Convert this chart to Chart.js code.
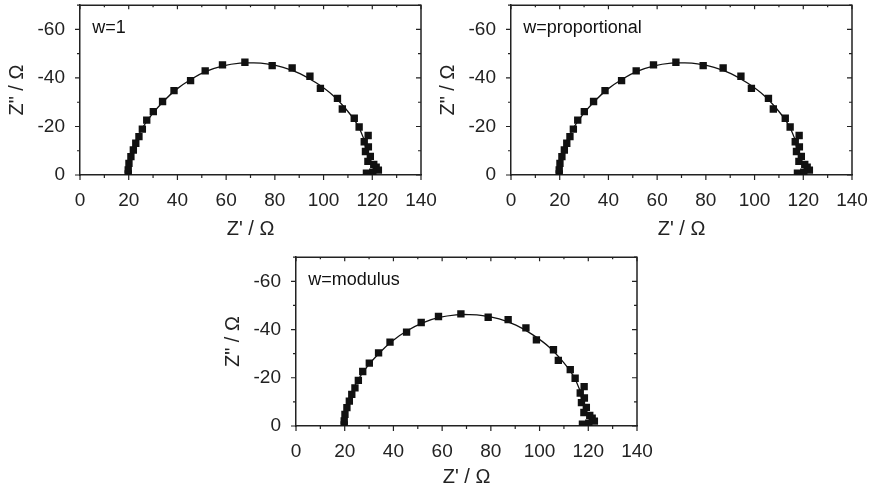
<!DOCTYPE html>
<html>
<head>
<meta charset="utf-8">
<script src="https://cdn.jsdelivr.net/npm/chart.js@4/dist/chart.umd.min.js"></script>
<style>
    body { margin: 0; background: #fff; width: 874px; height: 493px; position: relative; overflow: hidden; }
    canvas { position: absolute; }
</style>
</head>
<body>
<canvas id="panel1" width="440" height="245" style="left:0px;top:0px"></canvas>
<canvas id="panel2" width="440" height="245" style="left:431px;top:0px"></canvas>
<canvas id="panel3" width="440" height="241" style="left:216px;top:252px"></canvas>
<script>
// measured impedance points (Z' and Z'' in ohm)
const ptRe = [19.8, 19.8, 20.1, 20.9, 21.9, 22.9, 24.2, 25.6, 27.4, 30.1, 33.9, 38.6, 45.4, 51.4, 58.5, 67.7,
              78.9, 87.1, 94.4, 98.7, 105.7, 107.7, 112.6, 114.6, 118.3, 116.7, 118.4, 117.2, 119.2, 118.2,
              120.6, 121.6, 122.5, 117.6, 120.2];
const ptIm = [-0.4, -2.1, -4.8, -7.6, -10.3, -13.1, -15.8, -18.9, -22.6, -26.1, -30.3, -34.8, -38.9, -42.9, -45.4, -46.5,
              -45.1, -44.1, -40.7, -35.7, -31.6, -27.2, -23.4, -19.8, -16.3, -13.7, -11.6, -9.7, -7.7, -5.6,
              -4.4, -3.2, -2.0, -0.8, -1.2];

// fitted curve
const fitRe = [19.6, 20.3, 21.6, 23.6, 26.0, 29.4, 34.2, 39.7, 45.8, 52.0, 58.8, 65.7, 71.1, 76.6, 83.4, 90.3, 97.1, 104.0, 109.4, 113.5, 116.4, 117.4];
const fitIm = [0, -5.5, -10.5, -15.5, -20.0, -24.8, -30.3, -35.4, -39.6, -42.8, -45.0, -46.1, -46.2, -45.8, -44.4, -41.8, -37.9, -32.7, -26.9, -21.4, -15.2, -10.0];

const xTicks = [0, 20, 40, 60, 80, 100, 120, 140];
const xMinor = [10, 30, 50, 70, 90, 110, 130];
const yTicks = [0, -20, -40, -60];
const yMinor = [-10, -30, -50, -70];

const panelLabels = ['w=1', 'w=proportional', 'w=modulus'];
const labelAt = [5, -60.4];

const ink = '#222';
const fontFamily = '"Liberation Sans", Arial, sans-serif';

// frame, inward/outward tick marks and the panel label
const boxPlugin = {
    id: 'box',
    afterDraw(chart, args, opts) {
        const ctx = chart.ctx;
        const a = chart.chartArea;
        const x = chart.scales.x;
        const y = chart.scales.y;
        ctx.save();
        ctx.strokeStyle = ink;
        ctx.lineWidth = 1.5;
        ctx.beginPath();
        ctx.moveTo(a.left, a.top);
        ctx.lineTo(a.right, a.top);
        ctx.lineTo(a.right, a.bottom);
        ctx.stroke();

        ctx.lineWidth = 1.2;
        ctx.beginPath();
        function xMark(v, len) {
            const px = x.getPixelForValue(v);
            ctx.moveTo(px, a.bottom); ctx.lineTo(px, a.bottom + len);
            ctx.moveTo(px, a.top); ctx.lineTo(px, a.top + len - 1);
        }
        function yMark(v, len) {
            const py = y.getPixelForValue(v);
            ctx.moveTo(a.left, py); ctx.lineTo(a.left - len, py);
            ctx.moveTo(a.right, py); ctx.lineTo(a.right - len, py);
        }
        xTicks.forEach(v => xMark(v, 5));
        xMinor.forEach(v => xMark(v, 3));
        yTicks.forEach(v => yMark(v, 5));
        yMinor.forEach(v => yMark(v, 3));
        ctx.stroke();

        ctx.fillStyle = '#111';
        ctx.font = '18px ' + fontFamily;
        ctx.textBaseline = 'middle';
        ctx.textAlign = 'left';
        ctx.fillText(opts.label, x.getPixelForValue(labelAt[0]), y.getPixelForValue(labelAt[1]));
        ctx.restore();
    }
};

function makePanel(id, label, axisHeight) {
    const ctx = document.getElementById(id).getContext('2d');
    return new Chart(ctx, {
        type: 'scatter',
        data: {
            datasets: [{
                label: 'measured',
                data: ptRe.map((v, i) => ({ x: v, y: ptIm[i] })),
                pointStyle: 'rect',
                pointRadius: 5.2,
                backgroundColor: '#111',
                borderColor: '#111',
                borderWidth: 0,
                showLine: false
            }, {
                label: 'fit',
                data: fitRe.map((v, i) => ({ x: v, y: fitIm[i] })),
                showLine: true,
                pointRadius: 0,
                borderColor: '#111',
                borderWidth: 1.3,
                tension: 0.4,
                fill: false
            }]
        },
        options: {
            responsive: false,
            animation: false,
            layout: { padding: { top: 5, right: 19, left: 0, bottom: 0 } },
            plugins: {
                legend: { display: false },
                tooltip: { enabled: false },
                box: { label: label }
            },
            scales: {
                x: {
                    type: 'linear',
                    min: 0,
                    max: 140,
                    afterBuildTicks: s => { s.ticks = xTicks.map(v => ({ value: v })); },
                    afterFit: s => {
                        s.height = axisHeight;
                        s.paddingLeft = 0;
                        s.paddingRight = 0;
                    },
                    grid: { drawOnChartArea: false, drawTicks: false },
                    border: { display: true, color: ink, width: 1.5 },
                    ticks: {
                        color: ink,
                        padding: 14,
                        maxRotation: 0,
                        font: { family: fontFamily, size: 19 }
                    },
                    title: {
                        display: true,
                        text: "Z' / Ω",
                        color: ink,
                        padding: { top: 0, bottom: 4 },
                        font: { family: fontFamily, size: 20 }
                    }
                },
                y: {
                    type: 'linear',
                    min: -70,
                    max: 0,
                    reverse: true,
                    afterBuildTicks: s => { s.ticks = yTicks.map(v => ({ value: v })); },
                    afterFit: s => {
                        s.width = 80;
                        s.paddingTop = 0;
                        s.paddingBottom = 0;
                    },
                    grid: { drawOnChartArea: false, drawTicks: false },
                    border: { display: true, color: ink, width: 1.5 },
                    ticks: {
                        color: ink,
                        padding: 15,
                        font: { family: fontFamily, size: 19 }
                    },
                    title: {
                        display: true,
                        text: 'Z" / Ω',
                        color: ink,
                        padding: { top: 5, bottom: 0 },
                        font: { family: fontFamily, size: 20 }
                    }
                }
            }
        },
        plugins: [boxPlugin]
    });
}

makePanel('panel1', panelLabels[0], 70);
makePanel('panel2', panelLabels[1], 70);
makePanel('panel3', panelLabels[2], 67);
</script>
</body>
</html>
